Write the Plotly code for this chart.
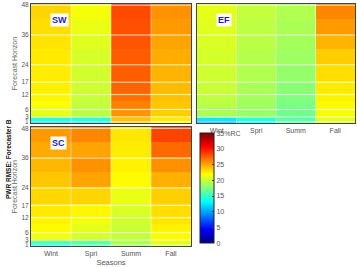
import plotly.graph_objects as go

seasons = ["Wint", "Spri", "Summ", "Fall"]
hour_ticks = [1, 3, 6, 12, 17, 24, 36, 48]
# forecast-hour bands (edges): 1, 2, 3, 4-6, 7-9, 10-12, 13-17, 18-24, 25-30, 31-36, 37-42, 43-48
hour_edges = [0.5, 1.5, 2.5, 3.5, 6.5, 9.5, 12.5, 17.5, 24.5, 30.5, 36.5, 42.5, 48.5]

# PWR RMSE (%RC), one value per band, per season
sw_wint = [12, 14.5, 18.5, 21, 21.8, 22.2, 22.4, 22.5, 22.6, 22.8, 23, 23.3]
sw_spri = [12.5, 14.5, 17.5, 19.5, 19.8, 20, 20.2, 20.3, 20.5, 20.8, 21.2, 21.6]
sw_summ = [23.3, 24, 24.8, 25.5, 26.2, 26.8, 27.2, 27.4, 27.5, 27.7, 27.9, 28.1]
sw_fall = [22, 22.6, 23, 23.5, 23.8, 24, 24.2, 24.4, 24.7, 25, 25.3, 25.6]

ef_wint = [10.5, 12.5, 17, 19, 19.4, 19.7, 20, 20.2, 20.4, 20.6, 20.8, 21]
ef_spri = [13, 14.5, 17, 18.3, 18.6, 18.8, 19, 19.2, 19.3, 19.5, 19.6, 19.8]
ef_summ = [16, 16.3, 16.6, 17, 17.3, 17.6, 17.9, 18.2, 18.5, 18.8, 19, 19.2]
ef_fall = [20.5, 21, 21.3, 21.6, 22, 22.3, 22.6, 23, 23.6, 24.4, 25.3, 26]

sc_wint = [13, 16, 19, 21.5, 22, 22.3, 22.6, 23.2, 23.8, 24.3, 24.8, 25.3]
sc_spri = [15, 16.5, 18.5, 20.5, 21, 21.5, 22.2, 23.3, 25, 25.6, 25, 26]
sc_summ = [18.5, 19, 19.5, 19.8, 20, 20.3, 20.6, 21.2, 22, 22.3, 22.5, 22.7]
sc_fall = [20.5, 21, 21.5, 22, 22.3, 22.7, 23, 23.5, 24.6, 25.7, 27, 28.3]

cbar_ticks = [0, 5, 10, 15, 20, 25, 30, 35]
cbar_text = ["0", "5", "10", "15", "20", "25", "30", "35%RC"]

W, H = 357, 267
FONT = "Liberation Sans, Arial, sans-serif"

def px_x(a, b):
    return [a / W, b / W]

def px_y(top, bot):
    return [1 - bot / H, 1 - top / H]

def rows(*cols):
    return [list(r) for r in zip(*cols)]

panels = [
    ("SW", rows(sw_wint, sw_spri, sw_summ, sw_fall), "x", "y", px_x(31, 191), px_y(2, 123)),
    ("EF", rows(ef_wint, ef_spri, ef_summ, ef_fall), "x2", "y2", px_x(197, 355), px_y(2, 123)),
    ("SC", rows(sc_wint, sc_spri, sc_summ, sc_fall), "x3", "y3", px_x(31, 191), px_y(127, 248)),
]

jet = [[0, "#000080"], [0.125, "#0000ff"], [0.375, "#00ffff"],
       [0.625, "#ffff00"], [0.875, "#ff0000"], [1, "#800000"]]

fig = go.Figure()
layout = dict(
    width=W, height=H, margin=dict(l=0, r=0, t=0, b=0),
    paper_bgcolor="white", plot_bgcolor="white", showlegend=False,
    font=dict(family=FONT, size=7, color="#555"),
    coloraxis=dict(
        colorscale=jet, cmin=0, cmax=35,
        colorbar=dict(
            x=200 / W, xanchor="left", xpad=0, ypad=0,
            y=1 - 189 / H, yanchor="middle",
            lenmode="pixels", len=110, thickness=14,
            outlinecolor="#222", outlinewidth=1,
            tickvals=cbar_ticks, ticktext=cbar_text,
            ticks="inside", ticklen=2, tickcolor="#444",
            tickfont=dict(size=7, color="#555", family=FONT),
        ),
    ),
    shapes=[], annotations=[],
)

for name, z, xa, ya, xd, yd in panels:
    fig.add_trace(go.Heatmap(
        z=z, x=[0, 1, 2, 3], y=hour_edges, coloraxis="coloraxis",
        xaxis=xa, yaxis=ya, zsmooth=False, hoverinfo="skip"))
    xkey = "xaxis" + xa[1:]
    ykey = "yaxis" + ya[1:]
    show_x = name in ("EF", "SC")
    show_y = name in ("SW", "SC")
    layout[xkey] = dict(
        domain=xd, anchor=ya, range=[-0.5, 3.5],
        tickvals=[0, 1, 2, 3], ticktext=seasons, showticklabels=show_x,
        ticks="", showgrid=False, zeroline=False,
        showline=True, mirror=True, linecolor="#444", linewidth=1,
        tickfont=dict(size=7, color="#555"),
        title=dict(text="Seasons" if name == "SC" else "", font=dict(size=7.5, color="#555"), standoff=2),
    )
    layout[ykey] = dict(
        domain=yd, anchor=xa, range=[0.5, 48.5],
        tickvals=hour_ticks, showticklabels=show_y,
        ticks="", showgrid=False, zeroline=False,
        showline=True, mirror=True, linecolor="#444", linewidth=1,
        tickfont=dict(size=6.5, color="#555"),
        title=dict(text="Forecast Horizon" if show_y else "", font=dict(size=7, color="#666"), standoff=3),
    )
    # grid lines drawn over the cells
    for h in hour_ticks:
        layout["shapes"].append(dict(
            type="line", xref=xa + " domain", yref=ya, x0=0, x1=1, y0=h, y1=h,
            line=dict(color="rgba(255,255,255,0.75)", width=1), layer="above"))
    for k in range(len(seasons) - 1):
        layout["shapes"].append(dict(
            type="line", xref=xa, yref=ya + " domain", x0=k + 0.5, x1=k + 0.5, y0=0, y1=1,
            line=dict(color="rgba(255,255,255,0.45)", width=1), layer="above"))
    layout["annotations"].append(dict(
        text="<b>%s</b>" % name, xref=xa + " domain", yref=ya + " domain",
        x=0.12, y=0.925, showarrow=False, bgcolor="white", borderpad=1,
        font=dict(size=9, color="#1a1acc", family=FONT)))

layout["annotations"].append(dict(
    text="<b>PWR RMSE: Forecaster B</b>", xref="paper", yref="paper",
    x=3.5 / W, y=1 - 202 / H, textangle=-90, showarrow=False,
    font=dict(size=6.5, color="#111", family=FONT)))

fig.update_layout(**layout)
fig.write_html("out.html")
